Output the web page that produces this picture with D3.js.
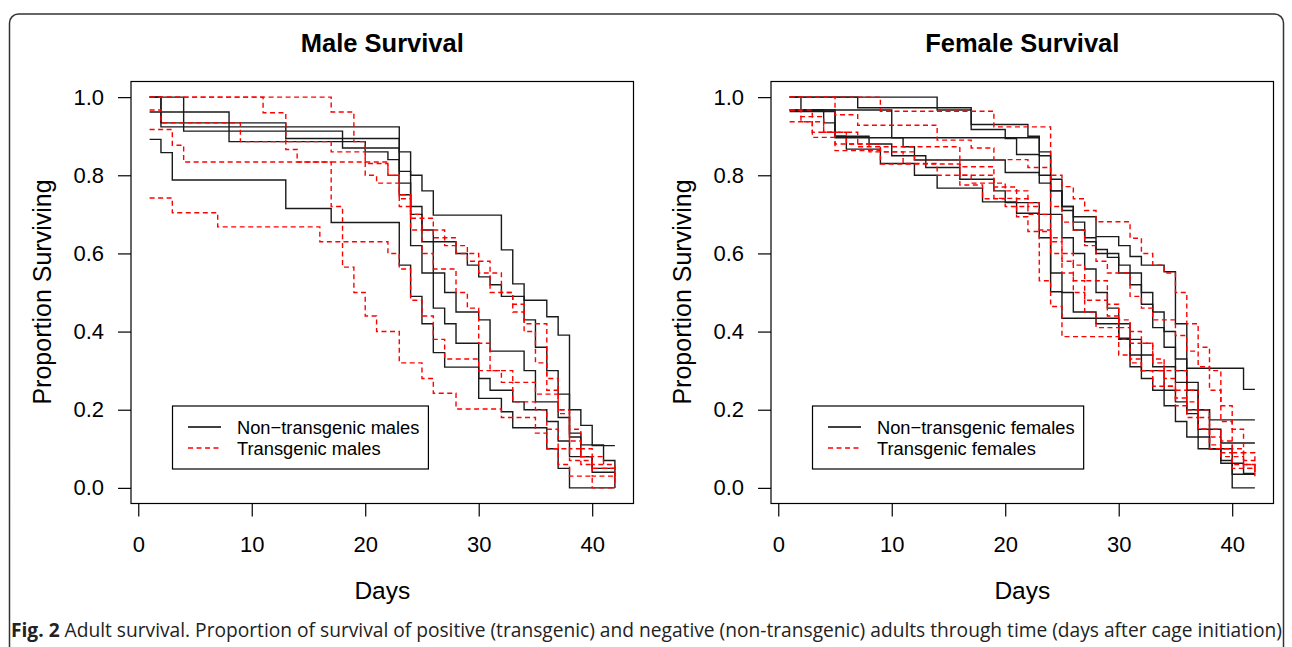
<!DOCTYPE html>
<html>
<head>
<meta charset="utf-8">
<script src="https://cdn.jsdelivr.net/npm/d3@7"></script>
<style>
  body { margin: 0; background: #fff; }
  svg { display: block; }
  text { font-family: "Liberation Sans", Arial, Helvetica, sans-serif; fill: #000; }
</style>
</head>
<body>
<svg width="1292" height="647"></svg>
<script>
// tick labels
var dayTicks = [0, 10, 20, 30, 40];
var propTicks = [0.0, 0.2, 0.4, 0.6, 0.8, 1.0];

// survival curves, each a list of [day, proportion] steps (value holds from that day on)
var maleNonTransgenic = [
  [[1,1.0],[2,0.924],[23,0.86],[24,0.80],[25,0.76],[26,0.698],[32,0.609],[33,0.522],[34,0.48],[36,0.438],[37,0.391],[38,0.14],[39,0.11],[41,0.07],[42,0.0]],
  [[1,1.0],[2,0.934],[13,0.894],[23,0.81],[24,0.72],[25,0.66],[26,0.63],[28,0.60],[29,0.57],[30,0.54],[31,0.52],[32,0.49],[34,0.43],[35,0.36],[36,0.30],[37,0.24],[38,0.20],[39,0.16],[40,0.108],[42,0.108]],
  [[1,1.0],[4,0.913],[18,0.87],[23,0.78],[24,0.70],[25,0.63],[26,0.55],[27,0.50],[28,0.45],[30,0.43],[31,0.35],[34,0.30],[35,0.22],[37,0.18],[38,0.13],[39,0.08],[40,0.05],[42,0.05]],
  [[1,0.962],[8,0.886],[20,0.86],[22,0.84],[23,0.75],[24,0.62],[25,0.55],[26,0.46],[27,0.42],[28,0.37],[30,0.28],[31,0.25],[33,0.22],[34,0.20],[36,0.17],[37,0.12],[38,0.08],[40,0.04],[42,0.04]],
  [[1,0.892],[2,0.858],[3,0.788],[13,0.715],[17,0.679],[23,0.57],[24,0.49],[25,0.42],[26,0.346],[27,0.309],[30,0.229],[32,0.195],[33,0.154],[36,0.10],[37,0.05],[38,0.0],[42,0.0]]
];
var maleTransgenic = [
  [[1,1.0],[17,0.962],[19,0.886],[20,0.80],[21,0.78],[23,0.72],[24,0.69],[26,0.64],[28,0.60],[30,0.55],[31,0.50],[33,0.47],[34,0.40],[35,0.32],[36,0.25],[37,0.20],[38,0.15],[39,0.10],[40,0.06],[42,0.03]],
  [[1,1.0],[11,0.96],[13,0.866],[14,0.834],[22,0.80],[23,0.75],[24,0.70],[25,0.66],[27,0.62],[29,0.58],[31,0.55],[32,0.50],[33,0.45],[34,0.42],[36,0.28],[37,0.20],[38,0.12],[39,0.08],[41,0.05],[42,0.04]],
  [[1,0.967],[2,0.934],[9,0.886],[17,0.86],[20,0.83],[22,0.80],[23,0.74],[24,0.66],[25,0.60],[26,0.56],[28,0.50],[29,0.46],[30,0.37],[31,0.30],[33,0.27],[35,0.24],[37,0.19],[38,0.10],[39,0.06],[40,0.03],[42,0.0]],
  [[1,0.917],[3,0.877],[4,0.834],[17,0.72],[18,0.63],[22,0.60],[23,0.56],[24,0.48],[25,0.44],[26,0.38],[27,0.33],[30,0.30],[32,0.27],[33,0.22],[35,0.20],[36,0.15],[37,0.10],[38,0.07],[40,0.05],[42,0.02]],
  [[1,0.742],[3,0.704],[7,0.668],[16,0.63],[18,0.565],[19,0.50],[20,0.44],[21,0.40],[23,0.32],[25,0.28],[26,0.242],[28,0.202],[32,0.18],[35,0.14],[36,0.10],[37,0.06],[38,0.03],[40,0.0],[42,0.0]]
];
var femaleNonTransgenic = [
  [[1,1.0],[14,0.967],[17,0.917],[20,0.894],[21,0.853],[23,0.80],[24,0.76],[25,0.72],[26,0.694],[28,0.643],[30,0.62],[31,0.592],[32,0.57],[34,0.553],[35,0.42],[36,0.306],[41,0.252],[42,0.252]],
  [[1,1.0],[2,0.967],[10,0.896],[23,0.86],[24,0.79],[25,0.72],[26,0.68],[27,0.63],[28,0.60],[30,0.57],[31,0.52],[32,0.47],[33,0.41],[34,0.36],[35,0.30],[36,0.25],[37,0.20],[38,0.174],[42,0.174]],
  [[1,0.967],[5,0.896],[11,0.873],[12,0.839],[20,0.807],[23,0.78],[24,0.70],[25,0.64],[26,0.60],[27,0.56],[28,0.50],[29,0.46],[30,0.42],[31,0.38],[32,0.34],[33,0.31],[35,0.27],[36,0.20],[37,0.15],[38,0.10],[40,0.063],[41,0.037],[42,0.037]],
  [[1,0.963],[5,0.90],[6,0.867],[9,0.830],[12,0.80],[14,0.767],[18,0.732],[21,0.703],[23,0.64],[24,0.55],[25,0.50],[26,0.45],[28,0.42],[30,0.38],[31,0.31],[32,0.28],[33,0.25],[34,0.21],[35,0.17],[36,0.13],[37,0.10],[39,0.063],[40,0.0],[42,0.0]],
  [[1,0.967],[4,0.934],[5,0.90],[8,0.88],[10,0.85],[13,0.82],[16,0.79],[19,0.76],[20,0.73],[23,0.70],[24,0.502],[25,0.434],[30,0.383],[31,0.34],[32,0.30],[34,0.25],[35,0.22],[36,0.19],[37,0.13],[38,0.10],[39,0.07],[40,0.035],[42,0.035]],
  [[1,1.0],[7,0.973],[17,0.93],[22,0.90],[23,0.85],[24,0.76],[25,0.71],[26,0.66],[27,0.64],[28,0.61],[29,0.59],[30,0.55],[32,0.50],[33,0.45],[34,0.40],[35,0.33],[36,0.27],[37,0.20],[38,0.15],[39,0.115],[42,0.115]]
];
var femaleTransgenic = [
  [[1,1.0],[9,0.964],[19,0.924],[24,0.80],[25,0.771],[26,0.74],[27,0.71],[28,0.681],[31,0.639],[32,0.60],[33,0.57],[34,0.55],[35,0.50],[36,0.42],[37,0.36],[38,0.30],[39,0.21],[40,0.15],[41,0.09],[42,0.04]],
  [[1,0.967],[3,0.897],[5,0.863],[9,0.829],[16,0.822],[19,0.741],[21,0.694],[22,0.656],[24,0.60],[25,0.55],[26,0.50],[27,0.45],[28,0.41],[30,0.38],[31,0.33],[32,0.30],[34,0.26],[35,0.23],[36,0.20],[37,0.15],[38,0.10],[39,0.08],[40,0.05],[42,0.04]],
  [[1,0.937],[4,0.91],[7,0.873],[16,0.775],[18,0.74],[20,0.72],[22,0.70],[23,0.66],[24,0.63],[25,0.58],[26,0.53],[27,0.48],[29,0.44],[30,0.41],[31,0.37],[33,0.33],[34,0.28],[35,0.25],[36,0.22],[37,0.18],[38,0.15],[39,0.12],[40,0.09],[41,0.06],[42,0.03]],
  [[1,1.0],[5,0.955],[7,0.928],[14,0.89],[17,0.87],[19,0.84],[22,0.82],[24,0.72],[25,0.68],[26,0.66],[27,0.62],[28,0.58],[29,0.55],[31,0.49],[32,0.46],[33,0.43],[35,0.39],[36,0.35],[37,0.31],[38,0.25],[39,0.17],[40,0.10],[41,0.07],[42,0.07]],
  [[1,0.967],[2,0.95],[4,0.91],[6,0.88],[9,0.86],[12,0.84],[16,0.80],[19,0.77],[21,0.74],[22,0.72],[23,0.53],[24,0.464],[25,0.387],[30,0.34],[31,0.32],[32,0.30],[33,0.26],[35,0.21],[36,0.18],[37,0.15],[38,0.11],[39,0.09],[40,0.06],[42,0.04]],
  [[1,0.967],[2,0.937],[3,0.91],[5,0.88],[8,0.86],[11,0.83],[14,0.80],[17,0.78],[20,0.76],[22,0.73],[23,0.70],[24,0.64],[25,0.60],[26,0.57],[27,0.53],[29,0.47],[30,0.43],[31,0.40],[32,0.37],[33,0.32],[34,0.30],[36,0.25],[37,0.20],[38,0.13],[39,0.10],[40,0.08],[41,0.05],[42,0.05]]
];

var svg = d3.select("svg");

// outer figure frame (rounded, open at the bottom)
svg.append("rect")
   .attr("x", 9.5).attr("y", 14)
   .attr("width", 1274).attr("height", 700)
   .attr("rx", 9)
   .attr("fill", "none")
   .attr("stroke", "#333")
   .attr("stroke-width", 1.5);

function drawPanel(ox, title, blackCurves, redCurves, legendLabels) {
    var g = svg.append("g").attr("transform", "translate(" + ox + ",0)");

    var x = d3.scaleLinear().domain([-0.64, 43.64]).range([131, 633.5]);
    var y = d3.scaleLinear().domain([-0.04, 1.04]).range([503.5, 81.5]);

    var line = d3.line()
                 .x(function(d) { return x(d[0]); })
                 .y(function(d) { return y(d[1]); })
                 .curve(d3.curveStepAfter);

    // curves: non-transgenic solid black, transgenic dashed red
    g.selectAll(".black").data(blackCurves).enter()
     .append("path")
       .attr("d", line)
       .attr("fill", "none")
       .attr("stroke", "#1a1a1a")
       .attr("stroke-width", 1.4);

    g.selectAll(".red").data(redCurves).enter()
     .append("path")
       .attr("d", line)
       .attr("fill", "none")
       .attr("stroke", "#ff0000")
       .attr("stroke-width", 1.4)
       .attr("stroke-dasharray", "5,3.5");

    // plot box
    g.append("rect")
     .attr("x", 131).attr("y", 81.5)
     .attr("width", 502.5).attr("height", 422)
     .attr("fill", "none")
     .attr("stroke", "#000")
     .attr("stroke-width", 1.2);

    // axes
    var xAxis = d3.axisBottom(x).tickValues(dayTicks).tickSize(13).tickPadding(20).tickSizeOuter(0);
    var gx = g.append("g").attr("transform", "translate(0,503.5)").call(xAxis);
    gx.select(".domain").remove();
    gx.selectAll("text").style("font-size", "22px").attr("font-family", null);
    gx.selectAll("line").attr("stroke", "#000").attr("stroke-width", 1.2);

    var yAxis = d3.axisLeft(y).tickValues(propTicks).tickFormat(d3.format(".1f")).tickSize(13).tickPadding(14).tickSizeOuter(0);
    var gy = g.append("g").attr("transform", "translate(131,0)").call(yAxis);
    gy.select(".domain").remove();
    gy.selectAll("text").style("font-size", "22px").attr("font-family", null);
    gy.selectAll("line").attr("stroke", "#000").attr("stroke-width", 1.2);

    // titles
    g.append("text")
     .attr("x", 382.3).attr("y", 52)
     .attr("text-anchor", "middle")
     .style("font-size", "25.5px").style("font-weight", "bold")
     .text(title);

    g.append("text")
     .attr("x", 382.3).attr("y", 599)
     .attr("text-anchor", "middle")
     .style("font-size", "24.5px")
     .text("Days");

    g.append("text")
     .attr("transform", "translate(51,292) rotate(-90)")
     .attr("text-anchor", "middle")
     .style("font-size", "25px")
     .text("Proportion Surviving");

    // legend
    var lg = g.append("g");
    var box = lg.append("rect")
                .attr("x", 172.5).attr("y", 406)
                .attr("height", 63)
                .attr("fill", "#fff")
                .attr("stroke", "#000")
                .attr("stroke-width", 1.2);
    var maxW = 0;
    legendLabels.forEach(function(lab, i) {
        var ly = 427 + i * 21;
        lg.append("line")
          .attr("x1", 188).attr("x2", 221)
          .attr("y1", ly).attr("y2", ly)
          .attr("stroke", i == 0 ? "#000" : "#ff0000")
          .attr("stroke-width", 1.4)
          .attr("stroke-dasharray", i == 0 ? null : "5,3.5");
        var t = lg.append("text")
                  .attr("x", 237).attr("y", ly + 6.5)
                  .style("font-size", "18.3px")
                  .text(lab);
        maxW = Math.max(maxW, t.node().getComputedTextLength());
    });
    box.attr("width", 237 - 172.5 + maxW + 9);
}

drawPanel(0, "Male Survival", maleNonTransgenic, maleTransgenic,
          ["Non\u2212transgenic males", "Transgenic males"]);
drawPanel(640, "Female Survival", femaleNonTransgenic, femaleTransgenic,
          ["Non\u2212transgenic females", "Transgenic females"]);

// caption
var cap = svg.append("text")
             .attr("x", 11).attr("y", 637)
             .style("font-family", "'Open Sans', 'Noto Sans', sans-serif")
             .style("font-size", "17px")
             .style("fill", "#222");
cap.append("tspan").style("font-weight", "bold").text("Fig. 2");
cap.append("tspan").text(" Adult survival. Proportion of survival of positive (transgenic) and negative (non-transgenic) adults through time (days after cage initiation)");
var capW = cap.node().getComputedTextLength();
cap.style("font-size", (17 * 1272 / capW) + "px");
</script>
</body>
</html>
